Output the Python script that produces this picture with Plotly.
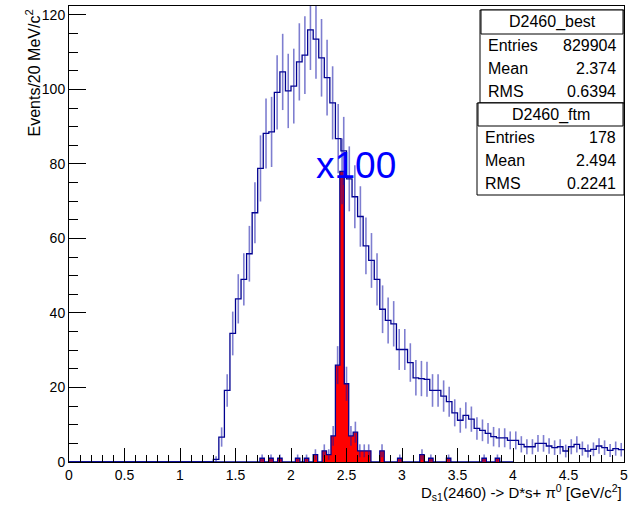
import numpy as np
import plotly.graph_objects as go

# ---------------- data ----------------
# blue histogram (D2460_best): 100 bins of 0.05 from 0 to 5
blue_lo, blue_hi, blue_nbins = 0.0, 5.0, 100
blue_counts = ([0] * 26 +
               [0.7, 6.7, 19.2, 34.5, 43.8, 49.0, 55.9, 66.9, 78.8, 88.2,
                88.6, 99.2, 104.7, 99.6, 100.9, 107.4, 109.2, 116.0, 113.5, 108.5,
                103.2, 96.4, 86.8, 83.5, 76.0, 71.2, 65.9, 58.0, 54.1, 49.0,
                41.0, 38.0, 37.1, 30.2, 30.2, 26.7, 22.6, 22.4, 22.2, 19.2,
                19.2, 17.7, 16.2, 13.2, 11.2, 12.5, 11.5, 9.0, 8.5, 7.7,
                6.8, 6.5, 6.5, 5.8, 5.8, 4.75, 4.1, 4.1, 5.0, 5.0,
                4.3, 3.85, 4.1, 2.95, 4.1, 4.75, 3.6, 2.95, 3.4, 4.3,
                3.85, 3.1, 3.6, 3.3])

# red histogram (D2460_ftm): 100 bins of 0.04 from 0 to 4
red_lo, red_hi, red_nbins = 0.0, 4.0, 100
red_counts = [0, 0, 0, 0, 0, 0, 0, 0, 0, 0,
              0, 0, 0, 0, 0, 0, 0, 0, 0, 0,
              0, 0, 0, 0, 0, 0, 0, 0, 0, 0,
              0, 0, 0, 0, 0, 0, 0, 0, 0, 0,
              0, 0, 0, 1, 0, 1, 0, 1, 0, 0,
              0, 1, 0, 1, 0, 2, 0, 3, 2, 7,
              26, 78, 21, 7, 8, 3, 3, 3, 0, 0,
              3, 0, 0, 0, 1, 0, 0, 0, 0, 2,
              0, 1, 0, 0, 0, 1, 0, 0, 0, 0,
              0, 0, 0, 1, 0, 0, 1, 0, 0, 0]

stats_best = [("Entries", "829904"), ("Mean", "2.374"), ("RMS", "0.6394")]
stats_ftm = [("Entries", "178"), ("Mean", "2.494"), ("RMS", "0.2241")]
name_best = "D2460_best"
name_ftm = "D2460_ftm"

x_title = "D<sub>s1</sub>(2460) -> D*s+ π<sup>0</sup> [GeV/c<sup>2</sup>]"
y_title = "Events/20 MeV/c<sup>2</sup>"
scale_label = "x100"

# ---------------- figure ----------------
W, H = 638, 506
L, R, T, B = 69, 14, 6, 44
FONT = "Liberation Sans, Arial, sans-serif"

def px(x):
    return (x - L) / (W - L - R)

def py(y):
    return (H - B - y) / (H - T - B)

blue_edges = np.linspace(blue_lo, blue_hi, blue_nbins + 1)
blue_centers = 0.5 * (blue_edges[:-1] + blue_edges[1:])
blue_vals = np.array(blue_counts, dtype=float)

red_edges = np.linspace(red_lo, red_hi, red_nbins + 1)
red_centers = 0.5 * (red_edges[:-1] + red_edges[1:])
red_vals = np.array(red_counts, dtype=float)

err_color = "rgba(20,20,170,0.55)"
line_color = "#000090"

fig = go.Figure()

# red filled step histogram
fig.add_trace(go.Scatter(
    x=red_edges, y=np.append(red_vals, red_vals[-1]),
    mode="lines", line=dict(shape="hv", color=line_color, width=1.3),
    fill="tozeroy", fillcolor="#ff0000", hoverinfo="skip", showlegend=False))
rm = red_vals > 0
fig.add_trace(go.Scatter(
    x=red_centers[rm], y=red_vals[rm], mode="markers",
    marker=dict(size=1, color="rgba(0,0,0,0)"),
    error_y=dict(type="data", array=np.sqrt(red_vals[rm]), width=0,
                 thickness=1.6, color=err_color),
    showlegend=False, hoverinfo="skip"))

# blue step histogram
fig.add_trace(go.Scatter(
    x=blue_edges, y=np.append(blue_vals, blue_vals[-1]),
    mode="lines", line=dict(shape="hv", color=line_color, width=1.3),
    hoverinfo="skip", showlegend=False))
bm = blue_vals > 0
fig.add_trace(go.Scatter(
    x=blue_centers[bm], y=blue_vals[bm], mode="markers",
    marker=dict(size=1, color="rgba(0,0,0,0)"),
    error_y=dict(type="data", array=np.sqrt(blue_vals[bm]), width=0,
                 thickness=1.6, color=err_color),
    showlegend=False, hoverinfo="skip"))

annotations = []
shapes = []

# x100 label
annotations.append(dict(x=2.59, y=79.5, xref="x", yref="y", text=scale_label,
                        showarrow=False, font=dict(family=FONT, size=37, color="#0000ff"),
                        xanchor="center", yanchor="middle"))

# axis titles
annotations.append(dict(x=px(624), y=py(493), xref="paper", yref="paper",
                        text=x_title, showarrow=False, xanchor="right", yanchor="middle",
                        font=dict(family=FONT, size=15, color="black")))
annotations.append(dict(x=px(33), y=py(8), xref="paper", yref="paper",
                        text=y_title, showarrow=False, textangle=-90,
                        xanchor="center", yanchor="top",
                        font=dict(family=FONT, size=16, color="black")))

# stats boxes
def stat_box(x0, x1, y0, y1, yhead, title, rows):
    shapes.append(dict(type="rect", xref="paper", yref="paper",
                       x0=px(x0), x1=px(x1), y0=py(y0), y1=py(y1),
                       line=dict(color="black", width=1), fillcolor="white", layer="above"))
    shapes.append(dict(type="rect", xref="paper", yref="paper",
                       x0=px(x0 + 1), x1=px(x1 - 1), y0=py(y0), y1=py(yhead),
                       line=dict(color="black", width=1), fillcolor="white", layer="above"))
    annotations.append(dict(x=px((x0 + x1) / 2), y=py((y0 + yhead) / 2), xref="paper", yref="paper",
                            text=title, showarrow=False, xanchor="center", yanchor="middle",
                            font=dict(family=FONT, size=16, color="black")))
    rh = (y1 - yhead) / len(rows)
    for i, (k, v) in enumerate(rows):
        yc = yhead + rh * (i + 0.5)
        annotations.append(dict(x=px(x0 + 6), y=py(yc), xref="paper", yref="paper",
                                text=k, showarrow=False, xanchor="left", yanchor="middle",
                                font=dict(family=FONT, size=16, color="black")))
        annotations.append(dict(x=px(x1 - 6), y=py(yc), xref="paper", yref="paper",
                                text=v, showarrow=False, xanchor="right", yanchor="middle",
                                font=dict(family=FONT, size=16, color="black")))

stat_box(480, 624, 10, 103, 34, name_best, stats_best)
stat_box(477, 624, 103, 195, 126, name_ftm, stats_ftm)

fig.update_layout(
    width=W, height=H,
    margin=dict(l=L, r=R, t=T, b=B, pad=0),
    paper_bgcolor="white", plot_bgcolor="white",
    font=dict(family=FONT, size=14, color="black"),
    annotations=annotations, shapes=shapes,
    xaxis=dict(range=[0, 5], dtick=0.5, tick0=0, ticks="inside", ticklen=14,
               tickcolor="black", showgrid=False, zeroline=False,
               showline=True, linecolor="black", linewidth=1, mirror=True,
               tickfont=dict(family=FONT, size=14),
               minor=dict(dtick=0.1, tick0=0, ticks="inside", ticklen=7,
                          tickcolor="black", showgrid=False)),
    yaxis=dict(range=[0, 122.4], dtick=20, tick0=0, ticks="inside", ticklen=17,
               tickcolor="black", showgrid=False, zeroline=False,
               showline=True, linecolor="black", linewidth=1, mirror=True,
               tickfont=dict(family=FONT, size=14),
               minor=dict(dtick=5, tick0=0, ticks="inside", ticklen=9,
                          tickcolor="black", showgrid=False)),
)

fig.write_html("out.html",
               config={"displayModeBar": False},
               post_script="document.body.style.margin='0px';"
                           "document.body.style.overflow='hidden';")
